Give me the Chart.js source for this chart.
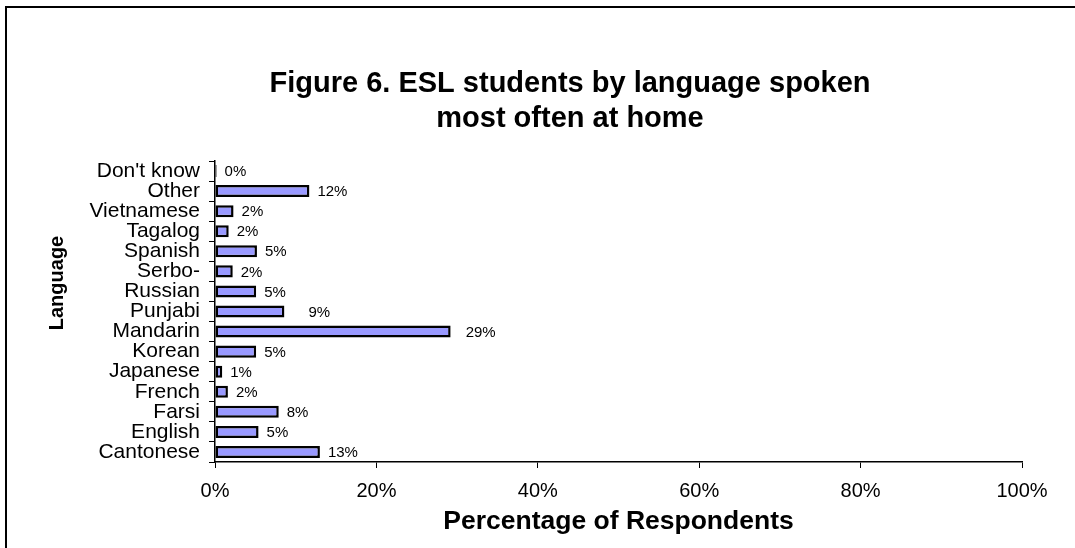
<!DOCTYPE html>
<html>
<head>
<meta charset="utf-8">
<script src="https://cdn.jsdelivr.net/npm/chart.js@4.4.1/dist/chart.umd.min.js"></script>
<style>
  html, body { margin: 0; padding: 0; background: #ffffff; overflow: hidden; }
  #wrap { position: relative; width: 1075px; height: 548px; }
  canvas { display: block; }
</style>
</head>
<body>
<div id="wrap"><canvas id="chart" width="1075" height="548"></canvas></div>
<script>
// Languages, listed top to bottom as they appear on the axis
const categories = [
  "Don't know", 'Other', 'Vietnamese', 'Tagalog', 'Spanish', 'Serbo-',
  'Russian', 'Punjabi', 'Mandarin', 'Korean', 'Japanese', 'French',
  'Farsi', 'English', 'Cantonese'
];
// Share of ESL students (%) for each language above
const percentages = [
  0.2, 11.7, 2.3, 1.7, 5.2, 2.2,
  5.1, 8.6, 29.2, 5.1, 0.9, 1.6,
  7.9, 5.4, 13.0
];
const xTicks = [0, 20, 40, 60, 80, 100];
const titleLines = ['Figure 6. ESL students by language spoken', 'most often at home'];
const yTitle = 'Language';
const xTitle = 'Percentage of Respondents';

const FONT = "'Liberation Sans', Arial, sans-serif";

// Frame, main title and rotated y title
const decorations = {
  id: 'decorations',
  beforeDraw(chart) {
    const ctx = chart.ctx;
    ctx.save();
    ctx.fillStyle = '#ffffff';
    ctx.fillRect(0, 0, chart.width, chart.height);
    ctx.strokeStyle = '#000000';
    ctx.lineWidth = 2;
    ctx.strokeRect(6, 7, chart.width + 40, chart.height + 40);
    ctx.restore();
  },
  afterDraw(chart) {
    const ctx = chart.ctx;
    ctx.save();
    ctx.fillStyle = '#000000';
    ctx.textAlign = 'center';
    ctx.textBaseline = 'middle';
    ctx.font = 'bold 29px ' + FONT;
    ctx.fillText(titleLines[0], 570, 84);
    ctx.fillText(titleLines[1], 570, 119);
    ctx.translate(57, 283);
    ctx.rotate(-Math.PI / 2);
    ctx.font = 'bold 20px ' + FONT;
    ctx.fillText(yTitle, 0, 0);
    ctx.restore();
  }
};

// Rounded percentage written just past the end of each bar
const barLabels = {
  id: 'barLabels',
  afterDatasetsDraw(chart, args, opts) {
    const ctx = chart.ctx;
    const meta = chart.getDatasetMeta(0);
    ctx.save();
    ctx.fillStyle = '#000000';
    ctx.font = '15px ' + FONT;
    ctx.textAlign = 'left';
    ctx.textBaseline = 'middle';
    meta.data.forEach((bar, i) => {
      const v = chart.data.datasets[0].data[i];
      const extra = (opts.nudge && opts.nudge[chart.data.labels[i]]) || 0;
      ctx.fillText(Math.round(v) + '%', bar.x + 8 + extra, bar.y + 1);
    });
    ctx.restore();
  }
};

new Chart(document.getElementById('chart'), {
  type: 'bar',
  data: {
    labels: categories,
    datasets: [{
      data: percentages,
      backgroundColor: '#9999ff',
      borderColor: '#000000',
      borderWidth: 2.5,
      borderSkipped: false,
      barPercentage: 0.6,
      categoryPercentage: 1.0
    }]
  },
  options: {
    indexAxis: 'y',
    responsive: false,
    animation: false,
    devicePixelRatio: 1,
    layout: { padding: { top: 161, right: 53, bottom: 0, left: 0 } },
    plugins: {
      legend: { display: false },
      tooltip: { enabled: false },
      title: { display: false },
      barLabels: { nudge: { 'Punjabi': 16, 'Mandarin': 7 } }
    },
    scales: {
      x: {
        min: 0,
        max: 100,
        afterBuildTicks(scale) {
          scale.ticks = xTicks.map(v => ({ value: v }));
        },
        afterFit(scale) { scale.height = 86; },
        ticks: {
          color: '#000000',
          font: { family: FONT, size: 20 },
          padding: 11,
          callback: v => v + '%'
        },
        grid: {
          drawOnChartArea: false,
          drawTicks: true,
          tickLength: 6,
          color: '#000000',
          lineWidth: 1
        },
        border: { display: true, color: '#000000', width: 1.5 },
        title: {
          display: true,
          text: xTitle,
          color: '#000000',
          font: { family: FONT, size: 26.5, weight: 'bold' },
          padding: { top: 0, bottom: 10 }
        }
      },
      y: {
        afterFit(scale) { scale.width = 215; },
        ticks: {
          color: '#000000',
          font: { family: FONT, size: 21 },
          padding: 9,
          autoSkip: false
        },
        grid: {
          offset: true,
          drawOnChartArea: false,
          drawTicks: true,
          tickLength: 6,
          color: '#000000',
          lineWidth: 1
        },
        border: { display: true, color: '#000000', width: 1.5 }
      }
    }
  },
  plugins: [decorations, barLabels]
});
</script>
</body>
</html>
